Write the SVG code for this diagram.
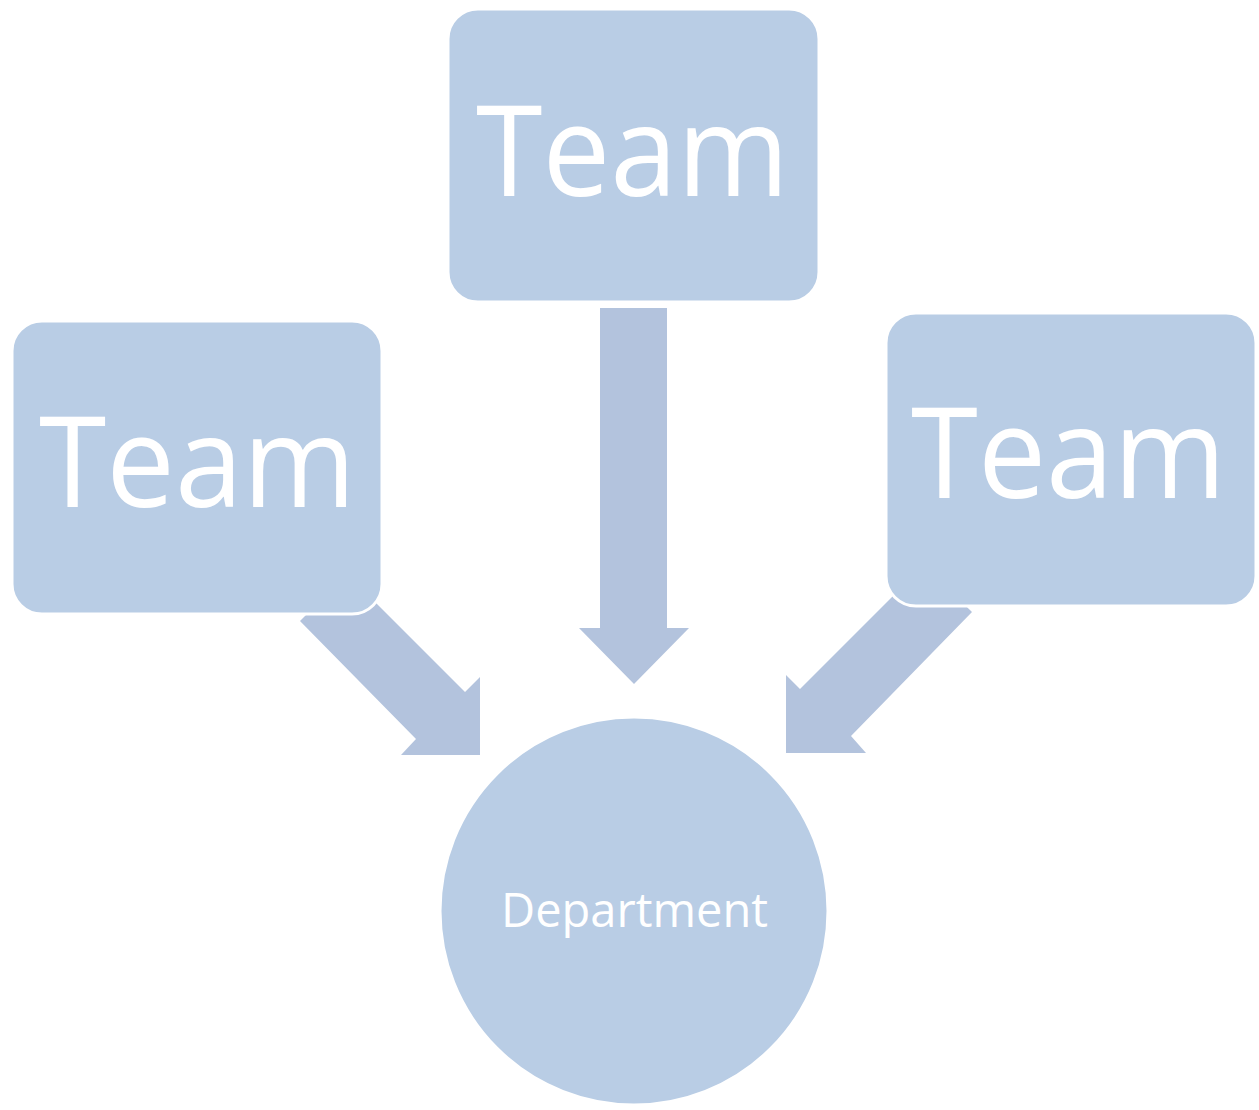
<svg xmlns="http://www.w3.org/2000/svg" width="1259" height="1110" viewBox="0 0 1259 1110">
  <style>
    .node { fill: #B9CDE5; stroke: #FFFFFF; stroke-width: 3; }
    .arrow { fill: #B3C3DD; }
    .big { font-family: "Open Sans", "Liberation Sans", sans-serif; font-size: 126px; fill: #FFFFFF; }
    .small { font-family: "Open Sans", "Liberation Sans", sans-serif; font-size: 47px; fill: #FFFFFF; }
  </style>
  <rect width="1259" height="1110" fill="#FFFFFF"/>
  <g id="connectors">
    <polygon class="arrow" points="600,308 667,308 667,628 689,628 634,684 579,628 600,628"/>
    <polygon class="arrow" points="347,574 300,621 416,739 401,755 480,755 480,677 465,692"/>
    <polygon class="arrow" points="924,565 972,612 851,736 866,753 786,753 786,675 800,689"/>
  </g>
  <g id="team-left">
    <rect class="node" x="12" y="321" width="370" height="293" rx="30" ry="30"/>
    <text class="big" x="39" y="507" textLength="317" lengthAdjust="spacingAndGlyphs">Team</text>
  </g>
  <g id="team-top">
    <rect class="node" x="448" y="9" width="371" height="293" rx="30" ry="30"/>
    <text class="big" x="476" y="196" textLength="313" lengthAdjust="spacingAndGlyphs">Team</text>
  </g>
  <g id="team-right">
    <rect class="node" x="886" y="313" width="370" height="293" rx="30" ry="30"/>
    <text class="big" x="911" y="498" textLength="315" lengthAdjust="spacingAndGlyphs">Team</text>
  </g>
  <g id="department">
    <circle class="node" cx="634" cy="911" r="194"/>
    <text class="small" x="501" y="927" textLength="267" lengthAdjust="spacingAndGlyphs">Department</text>
  </g>
</svg>
